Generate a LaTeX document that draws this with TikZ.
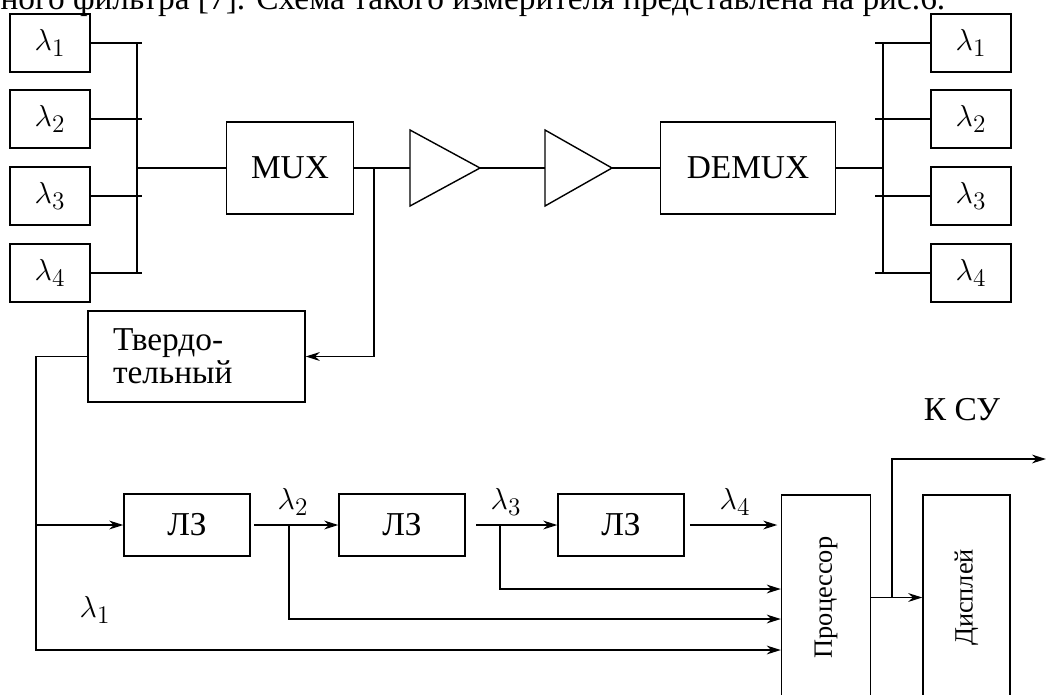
\documentclass[tikz,border=0pt]{standalone}
\usepackage{fontspec}
\setmainfont{Liberation Serif}
\usetikzlibrary{positioning, arrows.meta}

\begin{document}
\begin{tikzpicture}[x=0.02cm, y=-0.02cm,
  line width=0.8pt, >={Stealth[length=8pt, width=5pt]},
  every node/.style={font=\fontsize{19pt}{19pt}\selectfont, inner sep=0pt},
  lam/.style={draw, minimum width=1.6cm, minimum height=1.16cm},
  mx/.style={draw, minimum width=#1, minimum height=1.84cm},
  lz/.style={draw, minimum width=2.52cm, minimum height=1.24cm},
  tall/.style={draw, rotate=90, minimum width=4.1cm, minimum height=#1,
    font=\fontsize{15pt}{15pt}\selectfont}]
\useasboundingbox (0,0) rectangle (1048,694);
\clip (0,0) rectangle (1048,694);

\node[anchor=base east] (txt) at (946,9)
  {ивного фильтра [7]. Схема такого измерителя представлена на рис.6.};

\foreach \i/\y in {1/43, 2/119, 3/196, 4/273} {
  \node[lam] (in\i) at (50,\y) {$\lambda_\i$};
  \node[lam] (out\i) at (971,\y) {$\lambda_\i$};
  \coordinate (lb\i) at (142,\y);
  \coordinate (rb\i) at (875,\y);
  \draw (in\i.east) -- (lb\i);
  \draw (rb\i) -- (out\i.west);
}
\coordinate (lbtop) at (137,43);
\coordinate (lbbot) at (137,273);
\coordinate (lbmid) at (137,168);
\coordinate (rbtop) at (883,43);
\coordinate (rbbot) at (883,273);
\coordinate (rbmid) at (883,168);
\draw (lbtop) -- (lbbot);
\draw (rbtop) -- (rbbot);

\node[mx=2.54cm] (mux) at (290,168) {MUX};
\node[mx=3.5cm] (demux) at (748,168) {DEMUX};

\coordinate (a1in) at (410,168);
\coordinate (a1out) at (480,168);
\coordinate (a2in) at (545,168);
\coordinate (a2out) at (612,168);
\draw (410,130) -- (a1out) -- (410,206) -- cycle;
\draw (545,130) -- (a2out) -- (545,206) -- cycle;

\draw (lbmid) -- (mux.west);
\draw (mux.east) -- (a1in);
\draw (a1out) -- (a2in);
\draw (a2out) -- (demux.west);
\draw (demux.east) -- (rbmid);

\node[draw, minimum width=4.34cm, minimum height=1.82cm, text width=3.34cm,
  align=left] (tv) at (196.5,356.5) {Твердо-\\тельный};
\coordinate (tap) at (374,168);
\draw[->] (tap) |- (tv.east);

\node[lz] (lz1) at (187,525) {ЛЗ};
\node[lz] (lz2) at (402,525) {ЛЗ};
\node[lz] (lz3) at (621,525) {ЛЗ};
\node[tall=1.78cm] (proc) at (826,597.5) {Процессор};
\node[tall=1.74cm] (disp) at (966.5,597.5) {Дисплей};

\coordinate (corner) at (36,650);
\draw[->] (tv.west) -| (corner) -- (corner -| proc.north);
\draw[->] (lz1.west -| corner) -- (lz1.west);
\draw[->, shorten <=2pt] (lz1) -- (lz2);
\draw[->, shorten <=6pt] (lz2) -- (lz3);
\draw[->, shorten <=3pt, shorten >=2pt] (lz3.east) -- (lz3.east -| proc.north);

\coordinate (t2) at (289,525);
\coordinate (t2b) at (289,619);
\coordinate (t3) at (500,525);
\coordinate (t3b) at (500,589);
\draw[->] (t2) -- (t2b) -- (t2b -| proc.north);
\draw[->] (t3) -- (t3b) -- (t3b -| proc.north);

\node (l2) at (293,502) {$\lambda_2$};
\node (l3) at (506,502) {$\lambda_3$};
\node (l4) at (735,502) {$\lambda_4$};
\node (l1) at (95,610) {$\lambda_1$};

\draw[->] (proc) -- (disp);
\coordinate (ptap) at (892,597.5);
\coordinate (ksu) at (1046,459);
\draw[->] (ptap) |- (ksu);
\node (ksulbl) at (962,410) {К СУ};
\end{tikzpicture}
\end{document}
